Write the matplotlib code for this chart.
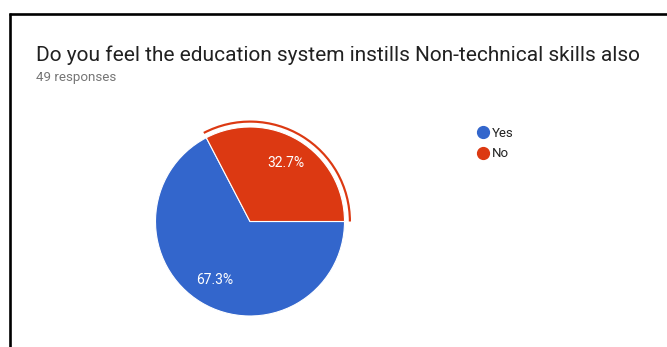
import matplotlib.pyplot as plt
from matplotlib.patches import Wedge
from matplotlib.lines import Line2D

plt.rcParams['font.family'] = ['Roboto', 'DejaVu Sans']

title = "Do you feel the education system instills Non-technical skills also"
subtitle = "49 responses"
labels = ["Yes", "No"]
counts = [33, 16]
colors = ["#3366CC", "#DC3912"]

W, H = 667, 347
fig = plt.figure(figsize=(W / 100, H / 100), dpi=100)
ax = fig.add_axes([0, 0, 1, 1])

# card border (top and left edges only)
ax.plot([9, W], [H - 14, H - 14], color='black', lw=1.9, solid_capstyle='butt')
ax.plot([10, 10], [0, H - 13], color='black', lw=1.9, solid_capstyle='butt')

ax.text(36, H - 55, title, fontsize=15, color='#212121', va='center', ha='left')
ax.text(36, H - 77, subtitle, fontsize=9.6, color='#757575', va='center', ha='left')

cx, cy, r = 250, H - 221.5, 94.5
total = sum(counts)
no_frac = counts[1] / total
wedges, texts, autotexts = ax.pie(
    counts, colors=colors, center=(cx, cy), radius=r,
    startangle=360 * no_frac, counterclock=True,
    autopct='%.1f%%', pctdistance=0.73,
    wedgeprops=dict(edgecolor='white', linewidth=0.8),
    textprops=dict(color='white', fontsize=10), frame=True)
ax.set_xlim(0, W)
ax.set_ylim(0, H)
ax.set_aspect('equal')
ax.axis('off')

# highlight ring around the selected slice
ax.add_patch(Wedge((cx, cy), r + 6.5, 0, 360 * no_frac, width=2.2,
                   color=colors[1], lw=0))

handles = [Line2D([], [], marker='o', ls='', markersize=8.5,
                  markerfacecolor=c, markeredgecolor=c) for c in colors]
ax.legend(handles, labels, loc='upper left', bbox_to_anchor=(463 / W, 1 - 115 / H),
          frameon=False, fontsize=9.5, handletextpad=0.1, labelspacing=0.55,
          handlelength=1.2, labelcolor='#222222')

fig.savefig('out.png', dpi=100)
